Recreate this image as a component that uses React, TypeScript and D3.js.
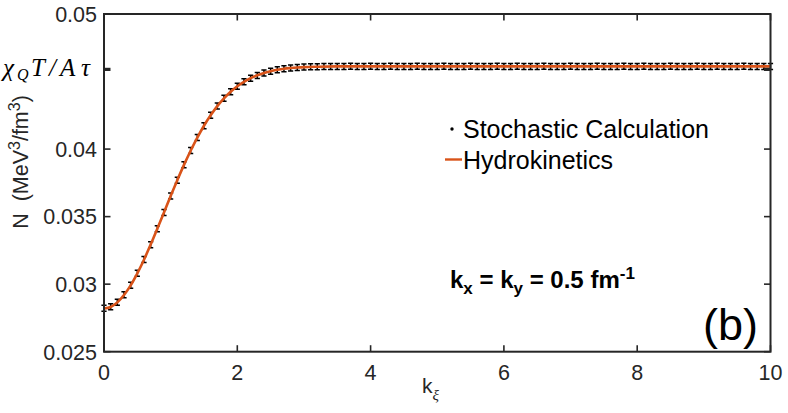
import React, {useEffect, useRef} from 'react';
import * as d3 from 'd3';

// stochastic calculation, k_xi = 0, 0.1, ..., 10  (values in MeV^3/fm^3)
const stochK: number[] = d3.range(0, 101).map(i => i / 10);
const stochN: number[] = [
  0.02821, 0.02832, 0.02866, 0.02921, 0.02992, 0.03080, 0.03182, 0.03292, 0.03411, 0.03530,
  0.03652, 0.03770, 0.03884, 0.03990, 0.04085, 0.04172, 0.04250, 0.04318, 0.04376, 0.04424,
  0.04465, 0.04498, 0.04525, 0.04545, 0.04563, 0.04577, 0.04587, 0.04595, 0.04600, 0.04604,
  0.04607, 0.04609, 0.04610, 0.04611, 0.04612, 0.04612, 0.04612, 0.04613, 0.04612, 0.04612,
  0.04613, 0.04612, 0.04612, 0.04613, 0.04612, 0.04612, 0.04612, 0.04613, 0.04612, 0.04612,
  0.04612, 0.04613, 0.04612, 0.04612, 0.04612, 0.04613, 0.04612, 0.04612, 0.04612, 0.04613,
  0.04612, 0.04612, 0.04613, 0.04612, 0.04612, 0.04612, 0.04613, 0.04612, 0.04612, 0.04612,
  0.04613, 0.04612, 0.04612, 0.04612, 0.04613, 0.04612, 0.04612, 0.04612, 0.04613, 0.04612,
  0.04612, 0.04613, 0.04612, 0.04612, 0.04612, 0.04613, 0.04612, 0.04612, 0.04612, 0.04613,
  0.04612, 0.04612, 0.04613, 0.04612, 0.04612, 0.04612, 0.04613, 0.04612, 0.04612, 0.04612,
  0.04612
];

// hydrokinetics curve
const hydroK: number[] = [
  0, 0.1, 0.2, 0.3, 0.4, 0.5, 0.6, 0.7, 0.8, 0.9, 1.0, 1.1, 1.2, 1.3, 1.4, 1.5, 1.6, 1.7, 1.8,
  1.9, 2.0, 2.1, 2.2, 2.3, 2.4, 2.5, 2.6, 2.7, 2.8, 2.9, 3.0, 3.2, 3.5, 4, 5, 6, 7, 8, 9, 10
];
const hydroN: number[] = [
  0.02820, 0.02831, 0.02865, 0.02920, 0.02991, 0.03080, 0.03181, 0.03293, 0.03411, 0.03530,
  0.03653, 0.03770, 0.03883, 0.03988, 0.04085, 0.04173, 0.04250, 0.04318, 0.04375, 0.04424,
  0.04465, 0.04498, 0.04525, 0.04546, 0.04563, 0.04577, 0.04587, 0.04595, 0.04600, 0.04604,
  0.04607, 0.04610, 0.04612, 0.04612, 0.04612, 0.04612, 0.04612, 0.04612, 0.04612, 0.04612
];

const xTicks: number[] = [0, 2, 4, 6, 8, 10];
const yTicks: number[] = [0.025, 0.03, 0.035, 0.04, 0.05];
const yTickLabels: string[] = ['0.025', '0.03', '0.035', '0.04', '0.05'];
const chiTick = 0.04590;

const App = () => {
  const ref = useRef<SVGSVGElement>(null);

  useEffect(() => {
    drawChart();
    return () => {
      d3.select(ref.current).selectAll('*').remove();
    };
  }, []);

  const drawChart = () => {
    const width = 788;
    const height = 413;
    const left = 104, right = 770.5, top = 14, bottom = 351.7;
    const axisColor = '#262626';
    const sans = '"Liberation Sans", Arial, Helvetica, sans-serif';

    const svg = d3.select(ref.current)
      .attr('width', width)
      .attr('height', height);

    svg.append('rect').attr('width', width).attr('height', height).attr('fill', '#fff');

    const x = d3.scaleLinear().domain([0, 10]).range([left, right]);
    const y = d3.scaleLinear().domain([0.025, 0.05]).range([bottom, top]);

    // hydrokinetics line
    const line = d3.line<number>()
      .x((_, i) => x(hydroK[i]))
      .y(d => y(d))
      .curve(d3.curveMonotoneX);

    // stochastic points drawn as tiny error bars
    svg.append('g')
      .selectAll('path')
      .data(stochN)
      .enter().append('path')
      .attr('d', (d, i) => {
        const px = x(stochK[i]);
        const py = y(d);
        return `M${px - 2.6},${py - 3}h5.2M${px},${py - 3}v6M${px - 2.6},${py + 3}h5.2`;
      })
      .attr('fill', 'none')
      .attr('stroke', '#000')
      .attr('stroke-width', 1.5);

    svg.append('path')
      .datum(hydroN)
      .attr('d', line)
      .attr('fill', 'none')
      .attr('stroke', '#D95319')
      .attr('stroke-width', 2.6);

    // axes box
    svg.append('rect')
      .attr('x', left).attr('y', top)
      .attr('width', right - left).attr('height', bottom - top)
      .attr('fill', 'none')
      .attr('stroke', axisColor)
      .attr('stroke-width', 2);

    const tickLen = 6.5;
    const ticks = svg.append('g').attr('stroke', axisColor).attr('stroke-width', 1.6);
    xTicks.forEach(t => {
      ticks.append('line').attr('x1', x(t)).attr('x2', x(t)).attr('y1', bottom).attr('y2', bottom - tickLen);
      ticks.append('line').attr('x1', x(t)).attr('x2', x(t)).attr('y1', top).attr('y2', top + tickLen);
    });
    yTicks.forEach(t => {
      ticks.append('line').attr('x1', left).attr('x2', left + tickLen).attr('y1', y(t)).attr('y2', y(t));
      ticks.append('line').attr('x1', right).attr('x2', right - tickLen).attr('y1', y(t)).attr('y2', y(t));
    });
    ticks.append('line').attr('x1', left).attr('x2', left + tickLen).attr('y1', y(chiTick)).attr('y2', y(chiTick)).attr('stroke-width', 3.2);
    ticks.append('line').attr('x1', right).attr('x2', right - tickLen).attr('y1', y(chiTick)).attr('y2', y(chiTick)).attr('stroke-width', 3.2);

    // tick labels
    svg.append('g')
      .selectAll('text')
      .data(xTicks)
      .enter().append('text')
      .attr('x', d => x(d))
      .attr('y', 379.5)
      .attr('text-anchor', 'middle')
      .attr('font-family', sans)
      .attr('font-size', 21.5)
      .attr('fill', axisColor)
      .text(d => `${d}`);

    svg.append('g')
      .selectAll('text')
      .data(yTicks)
      .enter().append('text')
      .attr('x', 97)
      .attr('y', d => y(d) + 7.8)
      .attr('text-anchor', 'end')
      .attr('font-family', sans)
      .attr('font-size', 21.5)
      .attr('fill', axisColor)
      .text((_, i) => yTickLabels[i]);

    // chi_Q T / A tau label
    const chi = svg.append('text')
      .attr('y', y(chiTick) + 6.5)
      .attr('font-family', '"Liberation Serif", "DejaVu Serif", serif')
      .attr('font-style', 'italic')
      .attr('font-size', 25)
      .attr('fill', '#000');
    chi.append('tspan').attr('x', 3).text('χ');
    chi.append('tspan').attr('x', 17).attr('dy', 4).attr('font-size', 16).text('Q');
    chi.append('tspan').attr('x', 31).attr('dy', -4).text('T');
    chi.append('tspan').attr('x', 49).text('/');
    chi.append('tspan').attr('x', 60).text('A');
    chi.append('tspan').attr('x', 81).text('τ');

    // y label
    const yl = svg.append('text')
      .attr('transform', 'translate(28,162) rotate(-90)')
      .attr('text-anchor', 'middle')
      .attr('font-family', sans)
      .attr('font-size', 21.5)
      .attr('fill', axisColor);
    yl.append('tspan').text('N\u00a0\u00a0(MeV');
    yl.append('tspan').attr('dy', -8).attr('font-size', 16).text('3');
    yl.append('tspan').attr('dy', 8).text('/fm');
    yl.append('tspan').attr('dy', -8).attr('font-size', 16).text('3');
    yl.append('tspan').attr('dy', 8).text(')');

    // x label
    const xl = svg.append('text')
      .attr('x', 422).attr('y', 393)
      .attr('font-family', sans)
      .attr('font-size', 21)
      .attr('fill', axisColor);
    xl.append('tspan').text('k');
    xl.append('tspan').attr('dy', 7).attr('font-size', 15)
      .attr('font-family', '"Liberation Serif", serif').attr('font-style', 'italic').text('ξ');

    // legend
    const legend = svg.append('g').attr('font-family', sans).attr('font-size', 25).attr('fill', '#000');
    legend.append('circle').attr('cx', 452).attr('cy', 129).attr('r', 1.7).attr('fill', '#000');
    legend.append('text').attr('x', 463).attr('y', 138).text('Stochastic Calculation');
    legend.append('line').attr('x1', 445).attr('x2', 462).attr('y1', 159.5).attr('y2', 159.5)
      .attr('stroke', '#D95319').attr('stroke-width', 2.4);
    legend.append('text').attr('x', 463).attr('y', 169).text('Hydrokinetics');

    // annotation
    const ann = svg.append('text')
      .attr('x', 450).attr('y', 288)
      .attr('font-family', sans)
      .attr('font-weight', 'bold')
      .attr('font-size', 24)
      .attr('fill', '#000');
    ann.append('tspan').text('k');
    ann.append('tspan').attr('dy', 6).attr('font-size', 17).text('x');
    ann.append('tspan').attr('dy', -6).text(' = k');
    ann.append('tspan').attr('dy', 6).attr('font-size', 17).text('y');
    ann.append('tspan').attr('dy', -6).text(' = 0.5 fm');
    ann.append('tspan').attr('dy', -9).attr('font-size', 17).text('-1');

    svg.append('text')
      .attr('x', 703).attr('y', 340)
      .attr('font-family', sans)
      .attr('font-size', 45)
      .attr('fill', '#000')
      .text('(b)');
  };

  return (
    <div style={{position: 'absolute', left: 0, top: 0}}>
      <svg ref={ref}></svg>
    </div>
  );
};

export default App;
